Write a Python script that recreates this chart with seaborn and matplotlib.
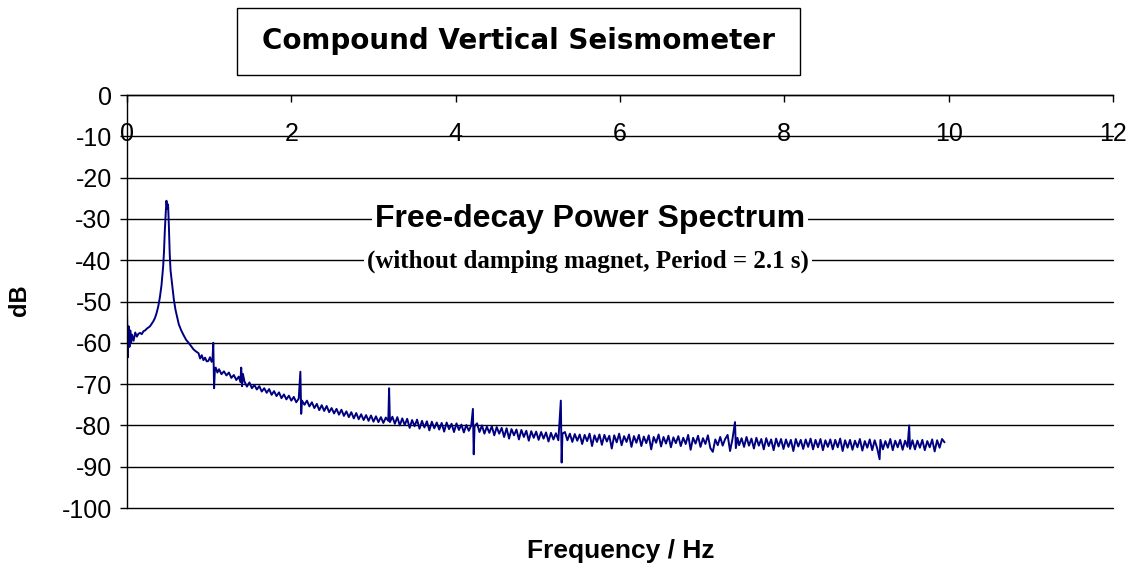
import matplotlib
matplotlib.use("Agg")
import matplotlib.pyplot as plt
import pandas as pd
import seaborn as sns
from matplotlib.patches import Rectangle

# spectrum, (frequency Hz, power dB)
seg_peak = [
    (0.00, -53.0), (0.01, -63.5), (0.02, -56.0), (0.03, -61.0), (0.04, -57.0),
    (0.05, -60.0), (0.06, -58.0), (0.08, -59.5), (0.10, -57.5), (0.12, -58.5),
    (0.14, -57.8), (0.16, -57.6), (0.18, -57.9), (0.20, -57.2), (0.22, -57.0),
    (0.24, -56.6), (0.26, -56.3), (0.28, -56.0), (0.30, -55.4), (0.32, -54.8),
    (0.34, -54.0), (0.36, -52.8), (0.38, -51.2), (0.40, -49.0), (0.42, -46.0),
    (0.44, -41.5), (0.45, -38.0), (0.46, -33.0), (0.47, -29.0), (0.48, -25.6),
    (0.49, -27.5), (0.50, -26.5), (0.51, -32.0), (0.52, -38.5), (0.53, -42.5),
    (0.55, -46.0), (0.57, -49.5), (0.59, -52.0), (0.61, -53.8), (0.63, -55.5),
    (0.66, -57.0), (0.69, -58.2), (0.72, -59.3), (0.75, -60.0), (0.78, -60.8),
    (0.81, -61.6), (0.84, -62.1), (0.87, -62.5), (0.89, -63.8), (0.91, -63.0),
    (0.93, -64.2), (0.95, -63.6), (0.97, -64.5), (0.99, -64.4), (1.01, -63.5),
    (1.03, -64.6), (1.04, -64.3), (1.05, -60.0), (1.06, -71.0), (1.07, -66.2),
]

seg_decay = [
    (1.08, -66.0), (1.10, -67.2), (1.12, -66.4), (1.15, -67.6), (1.18, -66.9),
    (1.21, -67.9), (1.24, -67.2), (1.27, -68.5), (1.30, -67.8), (1.33, -69.0),
    (1.36, -68.2), (1.38, -69.5), (1.39, -66.0), (1.40, -70.5), (1.41, -67.5),
    (1.43, -69.4), (1.46, -70.6), (1.49, -69.6), (1.52, -71.0), (1.55, -70.2),
    (1.58, -71.3), (1.61, -70.5), (1.64, -71.8), (1.67, -71.0), (1.70, -72.1),
    (1.73, -71.2), (1.76, -72.6), (1.79, -71.7), (1.82, -72.9), (1.85, -72.0),
    (1.88, -73.4), (1.91, -72.5), (1.94, -73.7), (1.97, -72.8), (2.00, -74.0),
    (2.03, -73.1), (2.06, -74.4), (2.09, -73.5), (2.11, -67.0), (2.12, -77.2),
    (2.13, -74.0), (2.16, -75.0), (2.19, -74.0), (2.22, -75.4), (2.25, -74.4),
    (2.28, -75.8), (2.31, -74.8), (2.34, -76.3), (2.37, -75.1), (2.40, -76.5),
    (2.43, -75.3), (2.46, -76.8), (2.49, -75.8), (2.52, -77.1), (2.55, -76.0),
    (2.58, -77.4), (2.61, -76.2), (2.64, -77.7), (2.67, -76.6), (2.70, -78.0),
    (2.73, -76.8), (2.76, -78.3), (2.79, -77.0), (2.82, -78.5), (2.85, -77.3),
    (2.88, -78.7), (2.91, -77.5), (2.94, -78.9), (2.97, -77.6), (3.00, -79.1),
    (3.03, -77.8), (3.06, -79.2), (3.09, -78.0), (3.12, -79.4), (3.15, -78.1),
    (3.18, -78.9), (3.19, -71.0), (3.20, -79.2), (3.23, -77.9),
]

seg_mid = [
    (3.26, -79.6), (3.29, -78.0), (3.32, -80.0), (3.35, -78.3), (3.38, -79.9),
    (3.41, -78.4), (3.44, -80.6), (3.47, -78.7), (3.50, -80.2), (3.53, -78.6),
    (3.56, -80.8), (3.59, -78.9), (3.62, -80.5), (3.65, -79.0), (3.68, -81.2),
    (3.71, -79.1), (3.74, -80.7), (3.77, -79.3), (3.80, -81.0), (3.83, -79.4),
    (3.86, -81.5), (3.89, -79.3), (3.92, -80.9), (3.95, -79.6), (3.98, -81.6),
    (4.01, -79.5), (4.04, -81.1), (4.07, -79.8), (4.10, -81.7), (4.13, -79.9),
    (4.16, -81.3), (4.19, -80.0), (4.21, -76.0), (4.22, -87.0), (4.23, -80.2),
    (4.26, -79.5), (4.29, -81.6), (4.32, -80.0), (4.35, -82.0), (4.38, -80.3),
    (4.41, -81.8), (4.44, -80.2), (4.47, -82.4), (4.50, -80.4), (4.53, -82.0),
    (4.56, -80.6), (4.59, -82.8), (4.62, -80.7), (4.65, -83.2), (4.68, -80.9),
    (4.71, -82.4), (4.74, -81.0), (4.77, -83.4), (4.80, -81.1), (4.83, -82.8),
    (4.86, -81.3), (4.89, -83.7), (4.92, -81.4), (4.95, -83.0), (4.98, -81.5),
    (5.01, -83.5), (5.04, -81.6), (5.07, -83.2), (5.10, -81.7), (5.13, -83.9),
    (5.16, -81.8), (5.19, -83.4), (5.22, -81.9), (5.25, -83.6), (5.28, -74.0),
    (5.29, -89.0), (5.30, -82.0),
]

seg_tail = [
    (5.33, -81.6), (5.36, -83.6), (5.39, -82.0), (5.42, -84.0), (5.45, -82.1),
    (5.48, -83.7), (5.51, -82.2), (5.54, -84.5), (5.57, -82.3), (5.60, -83.8),
    (5.63, -82.0), (5.66, -85.0), (5.69, -82.4), (5.72, -84.0), (5.75, -82.2),
    (5.78, -84.7), (5.81, -82.3), (5.84, -83.9), (5.87, -82.5), (5.90, -85.6),
    (5.93, -82.4), (5.96, -84.1), (5.99, -82.0), (6.02, -84.8), (6.05, -82.6),
    (6.08, -84.0), (6.11, -82.2), (6.14, -85.2), (6.17, -82.6), (6.20, -84.2),
    (6.23, -82.3), (6.26, -85.0), (6.29, -82.7), (6.32, -84.3), (6.35, -82.4),
    (6.38, -85.8), (6.41, -82.8), (6.44, -84.2), (6.47, -82.2), (6.50, -85.1),
    (6.53, -82.8), (6.56, -84.4), (6.59, -82.5), (6.62, -85.3), (6.65, -82.9),
    (6.68, -84.3), (6.71, -82.6), (6.74, -85.0), (6.77, -83.0), (6.80, -84.5),
    (6.83, -82.3), (6.86, -85.9), (6.89, -83.0), (6.92, -84.4), (6.95, -82.5),
    (6.98, -85.2), (7.01, -83.1), (7.04, -84.5), (7.07, -82.4), (7.10, -85.5),
    (7.13, -86.4), (7.16, -83.4), (7.19, -84.8), (7.22, -82.8), (7.25, -84.9),
    (7.28, -83.3), (7.31, -82.3), (7.34, -86.2), (7.37, -83.2), (7.40, -79.2),
    (7.41, -85.5), (7.43, -83.0), (7.45, -84.8), (7.48, -83.1), (7.51, -85.2),
    (7.54, -82.8), (7.57, -84.9), (7.60, -83.2), (7.63, -85.6), (7.66, -83.0),
    (7.69, -84.9), (7.72, -83.3), (7.75, -85.8), (7.78, -83.1), (7.81, -85.0),
    (7.84, -83.4), (7.87, -86.0), (7.90, -83.2), (7.93, -85.1), (7.96, -83.3),
    (7.99, -85.7), (8.02, -83.4), (8.05, -85.2), (8.08, -83.5), (8.11, -86.2),
    (8.14, -83.3), (8.17, -85.1), (8.20, -83.5), (8.23, -85.7), (8.26, -83.4),
    (8.29, -85.2), (8.32, -83.2), (8.35, -85.8), (8.38, -83.5), (8.41, -85.3),
    (8.44, -83.3), (8.47, -86.0), (8.50, -83.6), (8.53, -85.2), (8.56, -83.4),
    (8.59, -85.8), (8.62, -83.5), (8.65, -85.3), (8.68, -83.2), (8.71, -86.2),
    (8.74, -83.6), (8.77, -85.4), (8.80, -83.5), (8.83, -85.9), (8.86, -83.7),
    (8.89, -85.3), (8.92, -83.3), (8.95, -86.1), (8.98, -83.8), (9.01, -85.4),
    (9.04, -83.4), (9.07, -86.0), (9.10, -83.6), (9.13, -85.5), (9.16, -88.2),
    (9.17, -83.5), (9.20, -85.8), (9.23, -83.8), (9.26, -85.4), (9.29, -83.3),
    (9.32, -86.0), (9.35, -83.7), (9.38, -85.3), (9.41, -83.5), (9.44, -85.9),
    (9.47, -83.7), (9.50, -85.2), (9.52, -80.0), (9.53, -85.7), (9.56, -83.6),
    (9.59, -85.8), (9.62, -83.7), (9.65, -85.4), (9.68, -83.5), (9.71, -86.0),
    (9.74, -83.8), (9.77, -85.3), (9.80, -83.4), (9.83, -86.3), (9.86, -83.6),
    (9.89, -85.4), (9.92, -83.3), (9.95, -84.1),
]

x_ticks = [0, 2, 4, 6, 8, 10, 12]
y_ticks = [0, -10, -20, -30, -40, -50, -60, -70, -80, -90, -100]

df = pd.DataFrame(seg_peak + seg_decay + seg_mid + seg_tail, columns=["freq", "db"])

sns.set_style("white")
plt.rcParams["font.family"] = ["Liberation Sans", "DejaVu Sans"]
plt.rcParams["text.color"] = "black"
plt.rcParams["axes.labelcolor"] = "black"
plt.rcParams["xtick.color"] = "black"
plt.rcParams["ytick.color"] = "black"

fig = plt.figure(figsize=(11.33, 5.69), dpi=100)
ax = fig.add_axes([0.1121, 0.1072, 0.8702, 0.7258])

sns.lineplot(data=df, x="freq", y="db", ax=ax, color="#000080", linewidth=1.4,
             estimator=None, sort=True)

ax.set_xlim(0, 12)
ax.set_ylim(-100, 0)
ax.set_xticks(x_ticks)
ax.set_yticks(y_ticks)
ax.set_yticklabels([str(v) for v in y_ticks])

ax.grid(axis="y", color="black", linewidth=1.0)
ax.grid(axis="x", visible=False)
for g in ax.yaxis.get_gridlines():
    g.set_clip_on(False)

for side in ["right", "bottom"]:
    ax.spines[side].set_visible(False)
ax.spines["left"].set_color("black")
ax.spines["top"].set_color("black")
ax.spines["left"].set_linewidth(1.0)
ax.spines["top"].set_linewidth(1.0)

ax.tick_params(axis="y", direction="out", length=5, width=1.0, colors="black",
               labelsize=18, pad=6, left=True)
ax.tick_params(axis="x", direction="in", length=5, width=1.0, colors="black",
               bottom=False, labelbottom=False, top=True, labeltop=True,
               labelsize=18, pad=-37)

ax.set_xlabel("Frequency / Hz", fontsize=19, fontweight="bold")
ax.xaxis.set_label_position("bottom")
ax.xaxis.set_label_coords(0.501, -0.075)
ax.set_ylabel("dB", fontsize=17, fontweight="bold")
ax.yaxis.set_label_coords(-0.097, 0.504)

ax.text(5.63, -30, "Free-decay Power Spectrum", fontsize=23, fontweight="bold",
        ha="center", va="center",
        bbox=dict(facecolor="white", edgecolor="none", pad=2))
ax.text(5.61, -40.3, "(without damping magnet, Period = 2.1 s)", fontsize=18,
        fontweight="bold", family=["Liberation Serif", "DejaVu Serif"],
        ha="center", va="center",
        bbox=dict(facecolor="white", edgecolor="none", pad=2))

fig.patches.append(Rectangle((237 / 1133, 1 - 75 / 569), 563 / 1133, 67 / 569,
                             transform=fig.transFigure, facecolor="white",
                             edgecolor="black", linewidth=1.0))
fig.text(518 / 1133, 1 - 41 / 569, "Compound Vertical Seismometer", fontsize=20,
         fontweight="bold", family=["DejaVu Sans"], ha="center", va="center")

plt.savefig("out.png", dpi=100)
